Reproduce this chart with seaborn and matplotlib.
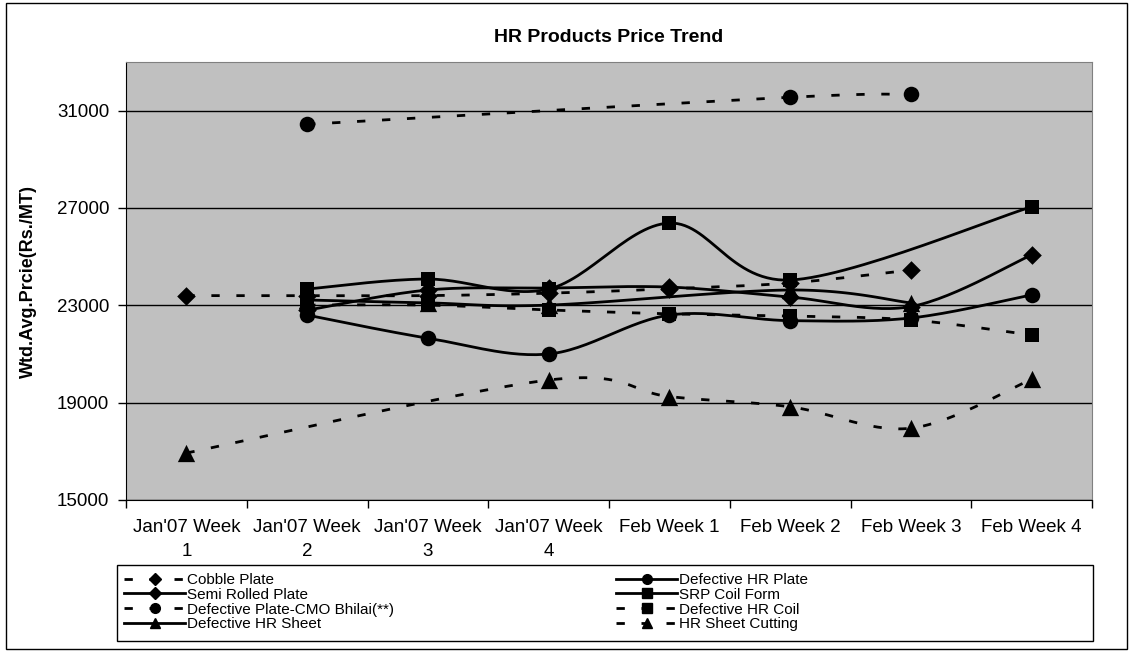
import numpy as np
import pandas as pd
import seaborn as sns
import matplotlib.pyplot as plt
from matplotlib.lines import Line2D
from matplotlib.patches import Rectangle

# weekly weighted average prices (Rs./MT), nan = no data that week
weeks = ["Jan'07 Week\n1", "Jan'07 Week\n2", "Jan'07 Week\n3", "Jan'07 Week\n4",
         "Feb Week 1", "Feb Week 2", "Feb Week 3", "Feb Week 4"]
nan = np.nan
cobble_plate = [23400, 23400, 23400, 23500, 23680, 23920, 24450, nan]
defective_hr_plate = [nan, 22600, 21650, 21000, 22600, 22370, 22480, 23430]
semi_rolled_plate = [nan, 22800, 23630, 23710, 23750, 23340, 22950, 25070]
srp_coil_form = [nan, 23670, 24080, 23670, 26380, 24040, nan, 27050]
defective_plate_cmo = [nan, 30440, nan, nan, nan, 31550, 31670, nan]
defective_hr_coil = [nan, 23010, 23010, 22810, 22650, 22560, 22400, 21780]
defective_hr_sheet = [nan, 23220, 23100, 23010, nan, 23630, 23100, nan]
hr_sheet_cutting = [16930, nan, nan, 19930, 19250, 18830, 17950, 19960]

# name, values, marker, dashed
series = [
    ('Cobble Plate', cobble_plate, 'D', True),
    ('Defective HR Plate', defective_hr_plate, 'o', False),
    ('Semi Rolled Plate', semi_rolled_plate, 'D', False),
    ('SRP Coil Form', srp_coil_form, 's', False),
    ('Defective Plate-CMO Bhilai(**)', defective_plate_cmo, 'o', True),
    ('Defective HR Coil', defective_hr_coil, 's', True),
    ('Defective HR Sheet', defective_hr_sheet, '^', False),
    ('HR Sheet Cutting', hr_sheet_cutting, '^', True),
]
msize = {'D': 90, 'o': 125, 's': 115, '^': 155}
dash = (3, 6)


def smooth(xs, ys, n=30):
    # excel-like smoothed line (bezier through the points)
    px = np.concatenate([[xs[0]], xs, [xs[-1]]])
    py = np.concatenate([[ys[0]], ys, [ys[-1]]])
    ox, oy = [], []
    t = np.linspace(0, 1, n)
    for i in range(1, len(px) - 2):
        p0 = np.array([px[i], py[i]])
        p3 = np.array([px[i + 1], py[i + 1]])
        c1 = p0 + (p3 - np.array([px[i - 1], py[i - 1]])) / 6
        c2 = p3 - (np.array([px[i + 2], py[i + 2]]) - p0) / 6
        b = ((1 - t) ** 3)[:, None] * p0 + (3 * (1 - t) ** 2 * t)[:, None] * c1 \
            + (3 * (1 - t) * t ** 2)[:, None] * c2 + (t ** 3)[:, None] * p3
        ox.extend(b[:, 0])
        oy.extend(b[:, 1])
    return ox, oy


pts = []
curves = []
for name, vals, mk, dashed in series:
    d = pd.DataFrame({'x': np.arange(len(weeks)), 'y': vals}).dropna()
    d['series'] = name
    pts.append(d)
    cx, cy = smooth(d['x'].values, d['y'].values)
    curves.append(pd.DataFrame({'x': cx, 'y': cy, 'series': name}))
pts = pd.concat(pts)
curves = pd.concat(curves)

plt.rcParams['font.family'] = ['Liberation Sans', 'DejaVu Sans']
fig = plt.figure(figsize=(11.33, 6.53), dpi=100)
ax = fig.add_axes([126 / 1133, 1 - 500 / 653, (1092 - 126) / 1133, (500 - 62) / 653])
ax.set_facecolor('#C0C0C0')

names = [s[0] for s in series]
black = {nm: 'black' for nm in names}
sns.lineplot(data=curves, x='x', y='y', hue='series', style='series', palette=black,
             dashes={s[0]: (dash if s[3] else '') for s in series},
             sort=False, estimator=None, lw=2, legend=False, ax=ax)
for name, vals, mk, dashed in series:
    sns.scatterplot(data=pts[pts['series'] == name], x='x', y='y', color='black',
                    marker=mk, s=msize[mk], linewidth=0, zorder=5, legend=False, ax=ax)

ax.set_xlim(-0.5, 7.5)
ax.set_ylim(15000, 33000)
ax.set_yticks([15000, 19000, 23000, 27000, 31000])
ax.yaxis.grid(True, color='black', lw=1)
ax.set_axisbelow(True)
ax.set_xticks(range(len(weeks)))
ax.set_xticklabels(weeks, fontsize=13.5, linespacing=1.5)
ax.set_xticks(np.arange(-0.5, 8, 1), minor=True)
ax.tick_params(axis='x', which='major', length=0, pad=14)
ax.tick_params(axis='x', which='minor', length=6, width=1, direction='out')
ax.tick_params(axis='y', length=6, width=1, direction='out', labelsize=13.5, pad=6)
ax.set_xlabel('')
ax.set_ylabel('')
for sp in ['left', 'bottom']:
    ax.spines[sp].set_color('black')
for sp in ['top', 'right']:
    ax.spines[sp].set_color('#808080')

fig.text(609 / 1133, 1 - 37 / 653, 'HR Products Price Trend', ha='center', va='center',
         fontsize=14, fontweight='bold')
fig.text(28 / 1133, 1 - 281 / 653, 'Wtd.Avg.Prcie(Rs./MT)', rotation=90, ha='center',
         va='center', fontsize=13, fontweight='bold')

# legend, two columns inside one box
handles = {}
for name, vals, mk, dashed in series:
    handles[name] = Line2D([0], [0], color='black', lw=2, ls=(0, dash) if dashed else '-',
                           marker=mk, markersize=7 if mk != 'D' else 6)
left_col = ['Cobble Plate', 'Semi Rolled Plate', 'Defective Plate-CMO Bhilai(**)', 'Defective HR Sheet']
right_col = ['Defective HR Plate', 'SRP Coil Form', 'Defective HR Coil', 'HR Sheet Cutting']
leg_kw = dict(loc='upper left', frameon=False, borderaxespad=0, borderpad=0, handlelength=4.0,
              handletextpad=0.1, labelspacing=0.05,
              prop={'family': ['Liberation Sans Narrow', 'Liberation Sans'], 'size': 11})
fig.legend([handles[n] for n in left_col], left_col,
           bbox_to_anchor=(124 / 1133, 1 - 573 / 653), **leg_kw)
fig.legend([handles[n] for n in right_col], right_col,
           bbox_to_anchor=(616 / 1133, 1 - 573 / 653), **leg_kw)
fig.patches.append(Rectangle((117 / 1133, 1 - 641 / 653), (1093 - 117) / 1133, 76 / 653,
                             transform=fig.transFigure, fill=False, ec='black', lw=1))
fig.patches.append(Rectangle((6 / 1133, 1 - 649 / 653), 1121 / 1133, 646 / 653,
                             transform=fig.transFigure, fill=False, ec='black', lw=1))

fig.savefig('out.png', dpi=100)
